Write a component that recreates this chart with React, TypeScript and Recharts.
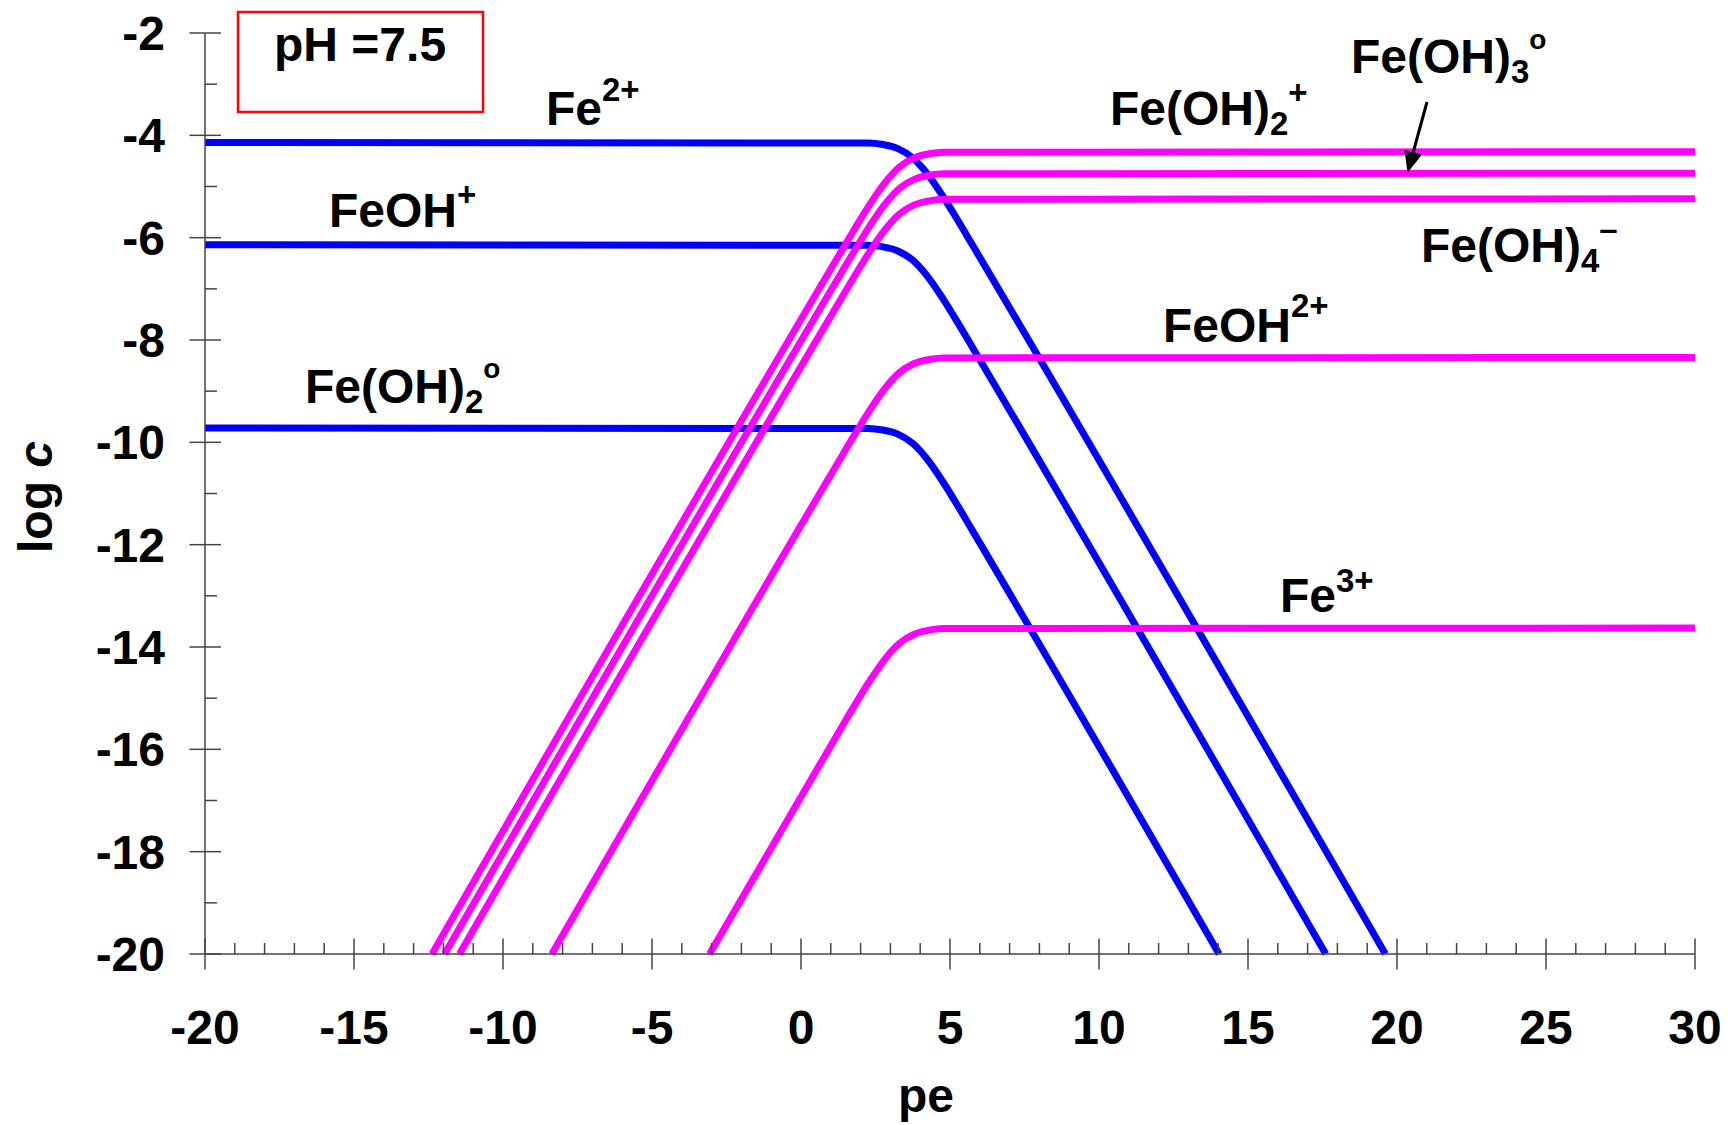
import { LineChart, Line, XAxis, YAxis } from 'recharts';

// pe axis ticks (every unit gets a tick mark, every 5 gets a label)
const PE_TICKS = [
  -20, -19, -18, -17, -16, -15, -14, -13, -12, -11, -10, -9, -8, -7, -6, -5, -4, -3, -2, -1,
  0, 1, 2, 3, 4, 5, 6, 7, 8, 9, 10, 11, 12, 13, 14, 15, 16, 17, 18, 19, 20, 21, 22, 23, 24,
  25, 26, 27, 28, 29, 30,
];
const PE_LABELS = [-20, -15, -10, -5, 0, 5, 10, 15, 20, 25, 30];
const LOGC_TICKS = [-20, -19, -18, -17, -16, -15, -14, -13, -12, -11, -10, -9, -8, -7, -6, -5, -4, -3, -2];
const LOGC_LABELS = [-20, -18, -16, -14, -12, -10, -8, -6, -4, -2];

// Fe(II) species, [pe, log c]
const fe2: [number, number][] = [
  [-20, -4.14], [2.25, -4.15], [2.75, -4.18], [3.25, -4.26], [3.75, -4.44], [4.25, -4.76],
  [4.75, -5.18], [5.25, -5.65], [5.75, -6.14], [19.61, -20],
];
const feOH: [number, number][] = [
  [-20, -6.14], [2.25, -6.15], [2.75, -6.18], [3.25, -6.26], [3.75, -6.44], [4.25, -6.76],
  [4.75, -7.18], [5.25, -7.65], [5.75, -8.14], [17.61, -20],
];
const feOH2aq: [number, number][] = [
  [-20, -9.72], [2.25, -9.73], [2.75, -9.76], [3.25, -9.84], [3.75, -10.02], [4.25, -10.34],
  [4.75, -10.76], [5.25, -11.23], [5.75, -11.72], [14.03, -20],
];

// Fe(III) species
const feOH2plus: [number, number][] = [
  [-12.38, -20], [1.3, -6.32], [1.8, -5.83], [2.3, -5.36], [2.8, -4.94], [3.3, -4.62],
  [3.8, -4.44], [4.3, -4.36], [4.8, -4.33], [30, -4.32],
];
const feOH3aq: [number, number][] = [
  [-11.96, -20], [1.3, -6.74], [1.8, -6.25], [2.3, -5.78], [2.8, -5.36], [3.3, -5.04],
  [3.8, -4.86], [4.3, -4.78], [4.8, -4.75], [30, -4.74],
];
const feOH4: [number, number][] = [
  [-11.46, -20], [1.3, -7.24], [1.8, -6.75], [2.3, -6.28], [2.8, -5.86], [3.3, -5.54],
  [3.8, -5.36], [4.3, -5.28], [4.8, -5.25], [30, -5.24],
];
const feOH2p: [number, number][] = [
  [-8.36, -20], [1.3, -10.34], [1.8, -9.85], [2.3, -9.38], [2.8, -8.96], [3.3, -8.64],
  [3.8, -8.46], [4.3, -8.38], [4.8, -8.35], [30, -8.34],
];
const fe3: [number, number][] = [
  [-3.07, -20], [1.3, -15.63], [1.8, -15.14], [2.3, -14.67], [2.8, -14.25], [3.3, -13.93],
  [3.8, -13.75], [4.3, -13.67], [4.8, -13.64], [30, -13.63],
];

const BLUE = '#0000FF';
const MAGENTA = '#FF00FF';
const AXIS = '#444';
const FONT = '"Liberation Sans", Arial, Helvetica, sans-serif';

const rows = (pts: [number, number][]) => pts.map(([pe, v]) => ({ pe, v }));

const XTick = (props: any) => {
  const { x, y, payload } = props;
  const major = PE_LABELS.includes(payload.value);
  return (
    <g>
      <line x1={x} x2={x} y1={major ? y - 15.5 : y - 11} y2={major ? y + 15.5 : y} stroke={AXIS} strokeWidth={1.5} />
      {major && (
        <text x={x} y={y + 90} textAnchor="middle" fontSize={48} fontWeight="bold" fontFamily={FONT} fill="#000">
          {payload.value}
        </text>
      )}
    </g>
  );
};

const YTick = (props: any) => {
  const { x, y, payload } = props;
  const major = LOGC_LABELS.includes(payload.value);
  return (
    <g>
      <line x1={major ? x - 15.5 : x} x2={major ? x + 16 : x + 12} y1={y} y2={y} stroke={AXIS} strokeWidth={1.5} />
      {major && (
        <text x={x - 40} y={y + 17} textAnchor="end" fontSize={48} fontWeight="bold" fontFamily={FONT} fill="#000">
          {payload.value}
        </text>
      )}
    </g>
  );
};

type Part = { t: string; size?: number; shift?: number };

function Chem({ x, y, parts }: { x: number; y: number; parts: Part[] }) {
  let prev = 0;
  return (
    <text x={x} y={y} fontSize={48} fontWeight="bold" fontFamily={FONT} fill="#000">
      {parts.map((p, i) => {
        const shift = p.shift ?? 0;
        const dy = shift - prev;
        prev = shift;
        return (
          <tspan key={i} dy={dy} fontSize={p.size ?? 48}>
            {p.t}
          </tspan>
        );
      })}
    </text>
  );
}

const SUP = 33;

export default function App() {
  const series = [
    { key: 'fe2', pts: fe2, color: BLUE },
    { key: 'feOH', pts: feOH, color: BLUE },
    { key: 'feOH2aq', pts: feOH2aq, color: BLUE },
    { key: 'feOH2plus', pts: feOH2plus, color: MAGENTA },
    { key: 'feOH3aq', pts: feOH3aq, color: MAGENTA },
    { key: 'feOH4', pts: feOH4, color: MAGENTA },
    { key: 'feOH2p', pts: feOH2p, color: MAGENTA },
    { key: 'fe3', pts: fe3, color: MAGENTA },
  ];

  return (
    <div style={{ position: 'absolute', left: 0, top: 0, width: 1728, height: 1125, background: '#fff' }}>
      <LineChart width={1728} height={1125} margin={{ top: 33, right: 33, bottom: 0, left: 0 }}>
        <XAxis
          type="number"
          dataKey="pe"
          domain={[-20, 30]}
          ticks={PE_TICKS}
          interval={0}
          tickSize={0}
          tickMargin={0}
          tick={(p: any) => <XTick {...p} />}
          height={171}
          axisLine={{ stroke: AXIS, strokeWidth: 1.5 }}
        />
        <YAxis
          type="number"
          domain={[-20, -2]}
          ticks={LOGC_TICKS}
          interval={0}
          tickSize={0}
          tickMargin={0}
          tick={(p: any) => <YTick {...p} />}
          width={205}
          axisLine={{ stroke: AXIS, strokeWidth: 1.5 }}
        />
        {series.map((s) => (
          <Line
            key={s.key}
            data={rows(s.pts)}
            dataKey="v"
            type="monotone"
            stroke={s.color}
            strokeWidth={7}
            dot={false}
            activeDot={false}
            isAnimationActive={false}
          />
        ))}
      </LineChart>

      <svg
        width={1728}
        height={1125}
        style={{ position: 'absolute', left: 0, top: 0, pointerEvents: 'none' }}
      >
        {/* pH box */}
        <rect x={238} y={12} width={245} height={100} fill="none" stroke="#FF0000" strokeWidth={2.5} />
        <text x={274} y={61} fontSize={48} fontWeight="bold" fontFamily={FONT} fill="#000">
          pH =7.5
        </text>

        {/* axis titles */}
        <text x={926} y={1112} textAnchor="middle" fontSize={48} fontWeight="bold" fontFamily={FONT} fill="#000">
          pe
        </text>
        <text
          transform="translate(52, 497) rotate(-90)"
          textAnchor="middle"
          fontSize={48}
          fontWeight="bold"
          fontFamily={FONT}
          fill="#000"
        >
          <tspan>log </tspan>
          <tspan fontStyle="italic">c</tspan>
        </text>

        {/* species labels */}
        <Chem x={546} y={125} parts={[{ t: 'Fe' }, { t: '2+', size: SUP, shift: -24 }]} />
        <Chem x={329} y={227} parts={[{ t: 'FeOH' }, { t: '+', size: SUP, shift: -21 }]} />
        <Chem
          x={305}
          y={403}
          parts={[{ t: 'Fe(OH)' }, { t: '2', size: SUP, shift: 10 }, { t: 'o', size: 28, shift: -25 }]}
        />
        <Chem
          x={1110}
          y={125}
          parts={[{ t: 'Fe(OH)' }, { t: '2', size: SUP, shift: 10 }, { t: '+', size: SUP, shift: -21 }]}
        />
        <Chem
          x={1351}
          y={73}
          parts={[{ t: 'Fe(OH)' }, { t: '3', size: SUP, shift: 10 }, { t: 'o', size: 28, shift: -24 }]}
        />
        <Chem
          x={1421}
          y={262}
          parts={[{ t: 'Fe(OH)' }, { t: '4', size: SUP, shift: 10 }, { t: '–', size: SUP, shift: -22 }]}
        />
        <Chem x={1163} y={342} parts={[{ t: 'FeOH' }, { t: '2+', size: SUP, shift: -25 }]} />
        <Chem x={1280} y={612} parts={[{ t: 'Fe' }, { t: '3+', size: SUP, shift: -20 }]} />

        {/* arrow to Fe(OH)3 line */}
        <line x1={1427} y1={102} x2={1413} y2={153} stroke="#000" strokeWidth={3} />
        <polygon points="1407.6,172.7 1421.8,154.8 1404.4,150.0" fill="#000" />
      </svg>
    </div>
  );
}
